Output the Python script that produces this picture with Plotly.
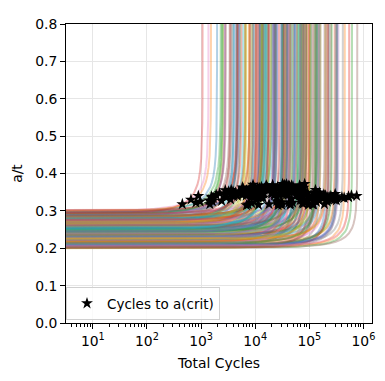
import numpy as np
import plotly.graph_objects as go

# initial crack depth ratio a0/t for each simulated curve
a0 = [
    0.234, 0.273, 0.203, 0.296, 0.255, 0.217, 0.288, 0.241, 0.266, 0.226,
    0.262, 0.214, 0.301, 0.247, 0.206, 0.284, 0.222, 0.251, 0.278, 0.238,
    0.228, 0.283, 0.257, 0.201, 0.275, 0.232, 0.293, 0.211, 0.244, 0.268,
    0.299, 0.243, 0.219, 0.271, 0.236, 0.264, 0.208, 0.253, 0.224, 0.286,
    0.256, 0.204, 0.277, 0.221, 0.294, 0.248, 0.261, 0.216, 0.287, 0.233,
    0.213, 0.267, 0.239, 0.281, 0.209, 0.252, 0.297, 0.227, 0.276, 0.246,
    0.285, 0.231, 0.207, 0.263, 0.225, 0.300, 0.258, 0.272, 0.218, 0.242,
    0.249, 0.291, 0.223, 0.254, 0.282, 0.212, 0.265, 0.202, 0.237, 0.274,
    0.205, 0.259, 0.289, 0.235, 0.269, 0.298, 0.215, 0.245, 0.279, 0.229,
    0.270, 0.220, 0.240, 0.302, 0.210, 0.260, 0.230, 0.280, 0.200, 0.250,
    0.236, 0.287, 0.268, 0.216, 0.295, 0.206, 0.248, 0.274, 0.223, 0.256,
    0.264, 0.203, 0.292, 0.244, 0.226, 0.278, 0.218, 0.253, 0.285, 0.239,
    0.221, 0.272, 0.251, 0.283, 0.208, 0.233, 0.290, 0.262, 0.241, 0.212,
    0.297, 0.217, 0.238, 0.266, 0.289, 0.246, 0.204, 0.227, 0.277, 0.258,
    0.243, 0.269, 0.201, 0.286, 0.232, 0.214, 0.301, 0.254, 0.224, 0.271,
    0.281, 0.257, 0.211, 0.294, 0.276, 0.202, 0.228, 0.249, 0.263, 0.237,
    0.253, 0.218, 0.292, 0.237, 0.275, 0.205, 0.262, 0.229, 0.284, 0.246,
    0.289, 0.226, 0.243, 0.201, 0.268, 0.297, 0.213, 0.259, 0.234, 0.279,
    0.209, 0.271, 0.249, 0.293, 0.222, 0.286, 0.239, 0.203, 0.266, 0.255,
    0.231, 0.300, 0.215, 0.276, 0.244, 0.261, 0.207, 0.283, 0.226, 0.251,
]

# total cycles at which a(crit) is reached (star markers)
cycles_crit = [
    9.7e4, 3.9e3, 2.2e5, 2.4e3, 6.5e4, 7.8e4, 1.3e4, 1.15e4, 2.05e4, 6.8e4,
    7.7e3, 2.8e5, 9.6e2, 3.6e4, 3.1e5, 9.7e3, 5.1e4, 9.6e3, 2.5e4, 4.1e4,
    9.9e4, 5.1e3, 4.7e4, 9.6e4, 8.9e3, 1.7e4, 8.4e3, 4.0e5, 2.0e4, 1.5e4,
    8.0e2, 6.7e4, 5.7e4, 1.3e4, 1.4e5, 7.0e3, 1.4e5, 3.5e4, 2.3e4, 1.4e4,
    2.0e4, 5.3e5, 4.1e3, 1.3e5, 3.2e3, 1.1e4, 3.2e4, 1.3e5, 1.7e3, 1.3e5,
    7.3e4, 3.9e4, 4.0e4, 2.8e3, 2.2e5, 2.9e4, 9.0e3, 3.3e4, 6.8e3, 5.9e4,
    1.2e4, 7.0e4, 4.7e4, 9.2e3, 1.8e5, 1.6e3, 2.9e4, 1.0e4, 3.0e5, 2.8e4,
    6.6e4, 2.9e3, 3.1e4, 2.1e4, 8.4e3, 2.4e5, 4.3e3, 1.5e5, 6.8e4, 4.7e3,
    2.0e5, 6.9e3, 1.6e4, 9.3e4, 9.1e3, 2.2e3, 5.4e4, 3.1e4, 1.2e4, 1.5e5,
    3.5e3, 8.7e4, 6.0e4, 1.45e3, 3.3e5, 2.1e4, 3.6e4, 2.3e4, 7.9e4, 5.0e4,
    2.25e4, 1.1e4, 1.2e4, 3.25e4, 1.25e4, 1.25e5, 4.3e4, 3.7e3, 9.7e4, 1.25e4,
    2.2e4, 4.4e5, 1.4e3, 2.6e4, 3.4e4, 9.9e3, 1.9e5, 7.0e4, 5.9e3, 1.6e4,
    6.6e4, 3.2e4, 1.2e4, 4.0e3, 2.9e5, 6.4e4, 1.9e3, 3.8e4, 3.65e4, 3.8e4,
    3.6e3, 1.55e5, 1.3e5, 8.2e3, 1.6e3, 7.4e4, 8.5e4, 8.2e4, 1.65e4, 1.45e4,
    2.1e4, 1.45e4, 6.0e5, 1.1e4, 2.1e4, 1.1e5, 6.5e2, 3.4e4, 1.85e5, 3.3e3,
    8.7e3, 9.4e3, 2.5e5, 4.5e2, 2.15e4, 7.5e5, 3.9e4, 4.15e4, 5.8e3, 4.3e4,
    3.1e4, 4.2e4, 1.55e3, 7.7e4, 2.5e4, 1.15e5, 8.6e3, 1.35e5, 6.9e3, 2.65e4,
    2.8e3, 1.9e5, 3.0e4, 2.15e5, 2.65e4, 1.6e3, 4.1e4, 3.1e4, 3.45e4, 1.05e4,
    3.1e5, 7.4e3, 7.4e4, 6.0e3, 2.85e4, 5.0e3, 4.45e4, 3.15e5, 5.8e3, 1.15e4,
    4.9e4, 8.9e2, 1.2e5, 1.5e4, 1.8e4, 4.5e4, 5.3e5, 2.85e3, 9.6e4, 8.6e3,
]

# critical crack depth ratio a(crit)/t
a_crit = [
    0.338, 0.352, 0.331, 0.327, 0.344, 0.362, 0.335, 0.358, 0.347, 0.329,
    0.345, 0.333, 0.325, 0.366, 0.339, 0.341, 0.356, 0.349, 0.337, 0.343,
    0.334, 0.348, 0.368, 0.328, 0.355, 0.362, 0.339, 0.336, 0.351, 0.359,
    0.322, 0.352, 0.341, 0.364, 0.338, 0.346, 0.333, 0.369, 0.343, 0.335,
    0.347, 0.338, 0.343, 0.356, 0.352, 0.361, 0.372, 0.340, 0.334, 0.350,
    0.330, 0.364, 0.357, 0.355, 0.336, 0.353, 0.346, 0.367, 0.341, 0.348,
    0.349, 0.344, 0.332, 0.365, 0.337, 0.326, 0.360, 0.354, 0.345, 0.342,
    0.368, 0.336, 0.351, 0.358, 0.344, 0.337, 0.349, 0.329, 0.363, 0.340,
    0.341, 0.355, 0.366, 0.347, 0.370, 0.347, 0.352, 0.362, 0.357, 0.339,
    0.331, 0.348, 0.359, 0.318, 0.335, 0.369, 0.353, 0.344, 0.327, 0.365,
    0.346, 0.338, 0.361, 0.343, 0.350, 0.332, 0.366, 0.349, 0.340, 0.356,
    0.352, 0.335, 0.328, 0.364, 0.357, 0.345, 0.336, 0.360, 0.347, 0.368,
    0.342, 0.367, 0.354, 0.339, 0.330, 0.358, 0.343, 0.371, 0.350, 0.344,
    0.356, 0.349, 0.345, 0.362, 0.327, 0.355, 0.343, 0.372, 0.363, 0.357,
    0.353, 0.346, 0.341, 0.356, 0.368, 0.338, 0.330, 0.361, 0.344, 0.348,
    0.337, 0.364, 0.340, 0.318, 0.359, 0.340, 0.352, 0.367, 0.343, 0.360,
    0.316, 0.322, 0.338, 0.319, 0.326, 0.317, 0.321, 0.324, 0.315, 0.320,
    0.341, 0.318, 0.361, 0.325, 0.315, 0.334, 0.358, 0.323, 0.366, 0.329,
    0.333, 0.317, 0.321, 0.359, 0.319, 0.352, 0.316, 0.328, 0.363, 0.316,
    0.322, 0.340, 0.317, 0.360, 0.318, 0.320, 0.337, 0.345, 0.316, 0.358,
]

# shared normalised growth profile: fraction of life vs a/a0
life_fraction = [0.0, 0.001, 0.005, 0.01, 0.02, 0.05, 0.1, 0.2, 0.3, 0.4, 0.5,
                 0.6, 0.7, 0.75, 0.8, 0.85, 0.9, 0.94, 0.97, 0.985, 0.993,
                 0.997, 0.999, 0.9997, 0.99993, 0.99999]
growth_ratio = [1.0, 1.0001, 1.0007, 1.0014, 1.0029, 1.0073, 1.0152, 1.0324,
                1.0523, 1.0757, 1.1041, 1.1399, 1.1877, 1.2190, 1.2585, 1.3113,
                1.3895, 1.4947, 1.6502, 1.8221, 2.0316, 2.2930, 2.6827, 3.1862,
                3.9228, 5.18]

y_ticks = [0.0, 0.1, 0.2, 0.3, 0.4, 0.5, 0.6, 0.7, 0.8]
y_tick_text = ["0.0", "0.1", "0.2", "0.3", "0.4", "0.5", "0.6", "0.7", "0.8"]
x_ticks = [10, 100, 1000, 10000, 100000, 1000000]
x_tick_text = ["10<sup>1</sup>", "10<sup>2</sup>", "10<sup>3</sup>",
               "10<sup>4</sup>", "10<sup>5</sup>", "10<sup>6</sup>"]

tab10 = [(31, 119, 180), (255, 127, 14), (44, 160, 44), (214, 39, 40),
         (148, 103, 189), (140, 86, 75), (227, 119, 194), (127, 127, 127),
         (188, 189, 34), (23, 190, 207)]

lf = np.array(life_fraction)
gr = np.array(growth_ratio)

fig = go.Figure()
for i, (a_init, n_c, a_c) in enumerate(zip(a0, cycles_crit, a_crit)):
    s_c = np.interp(a_c / a_init, gr, lf)
    n_f = n_c / s_c
    n = lf * n_f
    a = a_init * gr
    n[0] = 1.0
    keep = np.concatenate([[True], n[1:] > 1.0])
    r, g, b = tab10[i % 10]
    fig.add_trace(go.Scatter(
        x=n[keep], y=a[keep], mode="lines",
        line=dict(color=f"rgba({r},{g},{b},0.35)", width=2),
        showlegend=False, hoverinfo="skip",
    ))

fig.add_trace(go.Scatter(
    x=cycles_crit, y=a_crit, mode="markers", name="Cycles to a(crit)",
    marker=dict(symbol="star", size=9, color="black", line=dict(width=0)),
))

minor_vals = [m * 10 ** k for k in range(0, 7) for m in range(2, 10)]

font = dict(family="DejaVu Sans", size=13.9, color="black")
# the page body has an 8px default margin, so the figure is 8px smaller
fig.update_layout(
    width=377, height=373,
    margin=dict(l=53, r=13, t=8, b=58),
    paper_bgcolor="white", plot_bgcolor="white",
    font=font,
    showlegend=True,
    legend=dict(x=0.0, y=0.01, xanchor="left", yanchor="bottom",
                bgcolor="rgba(255,255,255,0.8)", bordercolor="#d0d0d0",
                borderwidth=1, font=dict(family="DejaVu Sans", size=13.5, color="black")),
    xaxis=dict(
        type="log", range=[0.504, 6.158],
        tickmode="array", tickvals=x_ticks, ticktext=x_tick_text,
        ticks="outside", ticklen=5, tickwidth=1, tickcolor="black",
        tickfont=font,
        showline=True, mirror=True, linecolor="black", linewidth=1,
        showgrid=True, gridcolor="#e6e6e6", gridwidth=1, zeroline=False,
        minor=dict(tickmode="array", tickvals=minor_vals, ticks="outside",
                   ticklen=3, tickwidth=0.8, tickcolor="black", showgrid=False),
        title=dict(text="Total Cycles", standoff=10, font=font),
    ),
    yaxis=dict(
        range=[0, 0.8], tickmode="array", tickvals=y_ticks, ticktext=y_tick_text,
        ticks="outside", ticklen=5, tickwidth=1, tickcolor="black",
        tickfont=font,
        showline=True, mirror=True, linecolor="black", linewidth=1,
        showgrid=True, gridcolor="#e6e6e6", gridwidth=1, zeroline=False,
        title=dict(text="a/t", standoff=9, font=font),
    ),
)

fig.write_html("out.html")
